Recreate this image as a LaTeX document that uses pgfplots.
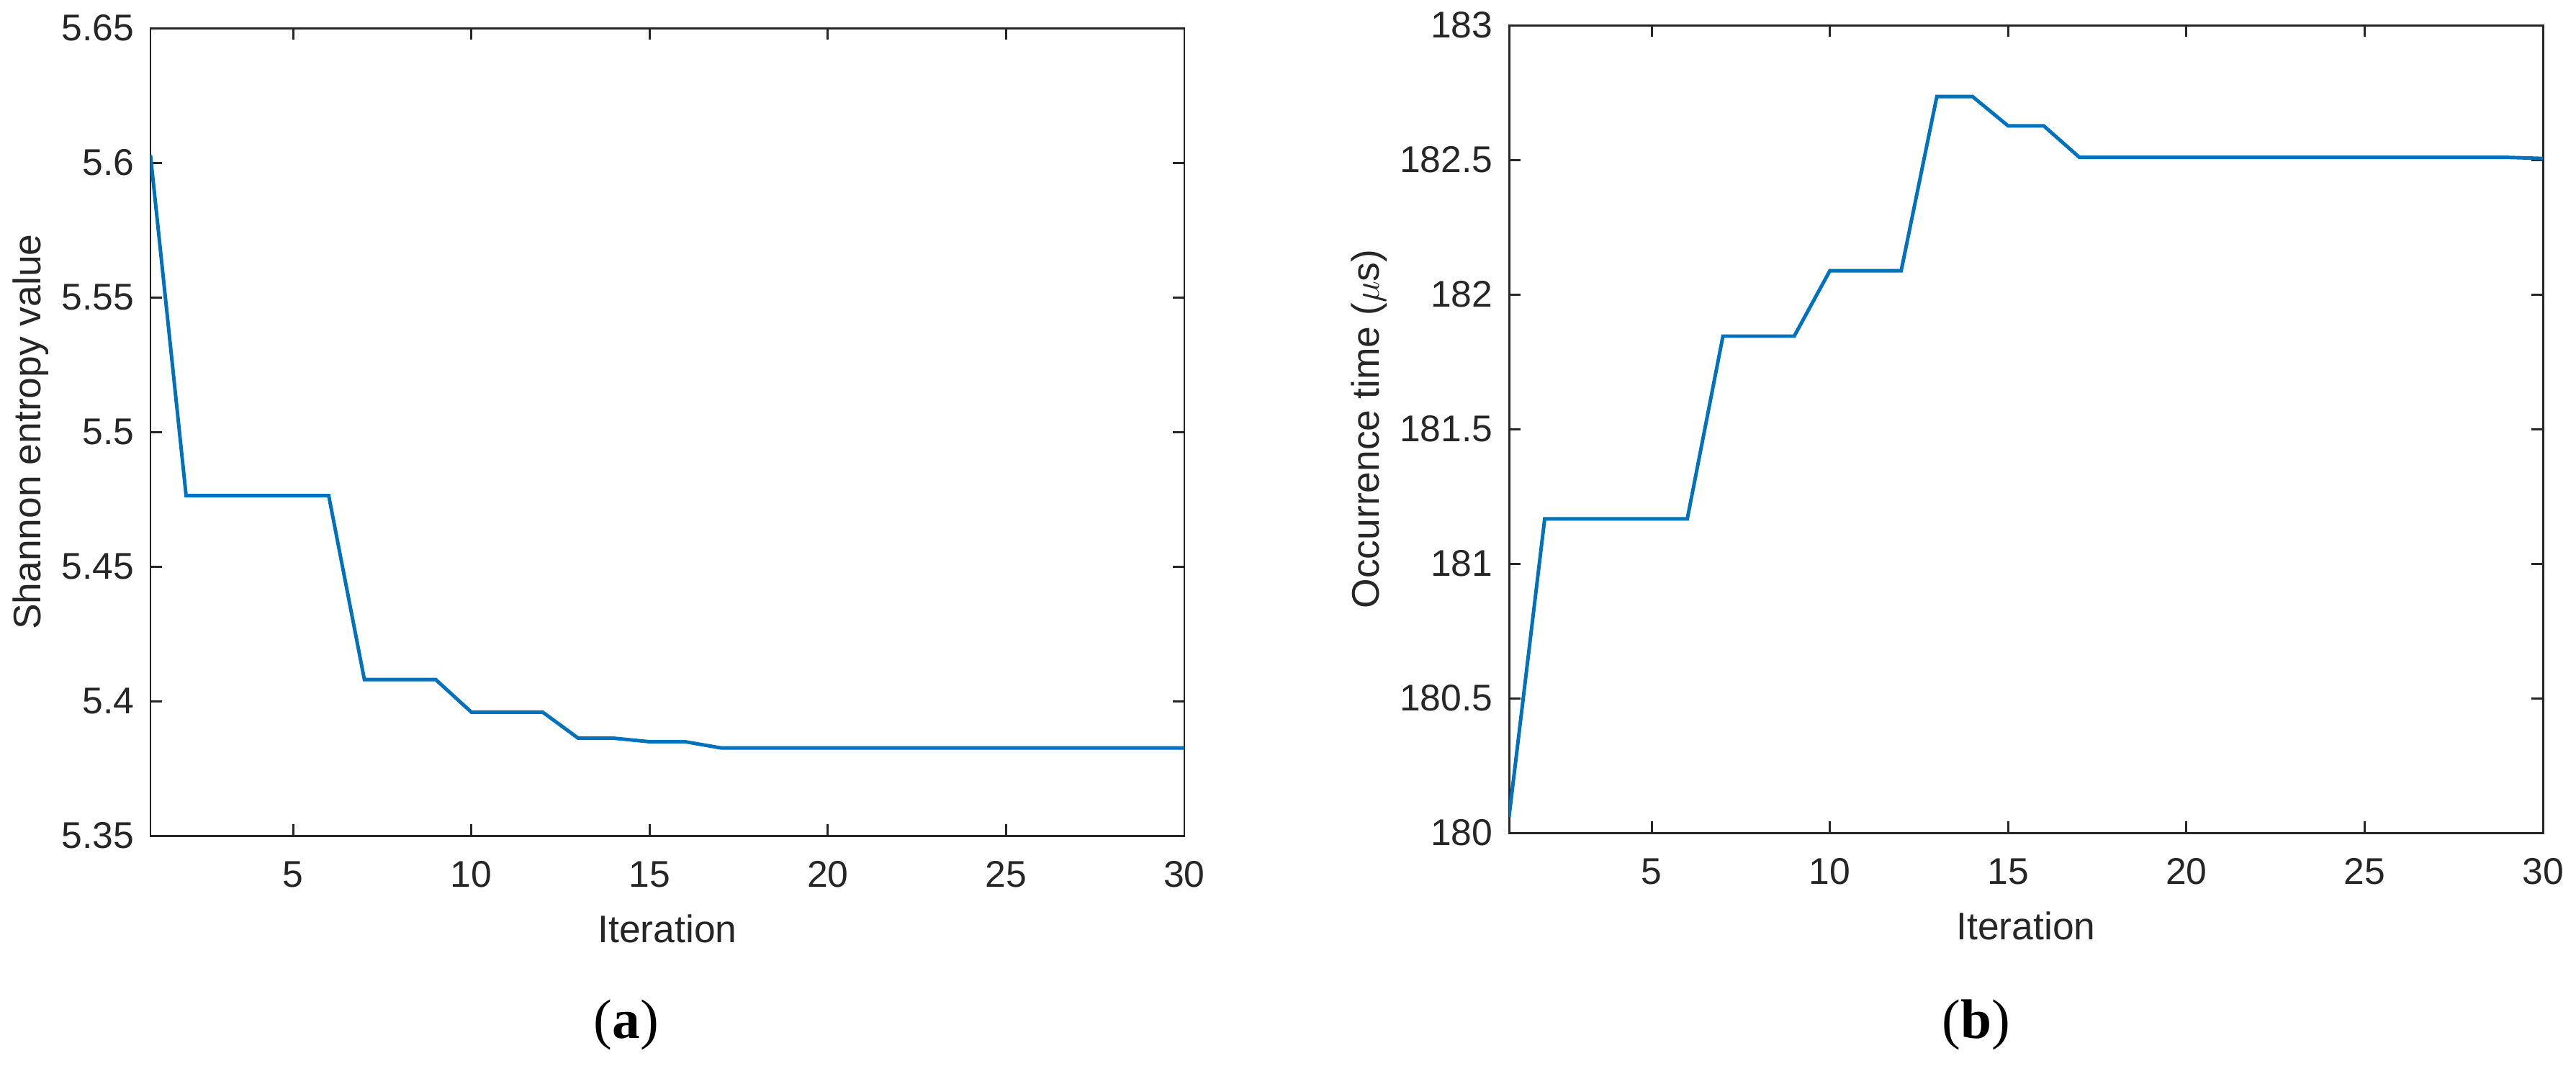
\documentclass[border=0pt]{standalone}
\usepackage{fontspec}
\setmainfont{Liberation Sans}
\newfontfamily\serifrm{Liberation Serif}
\usepackage{pgfplots}
\pgfplotsset{compat=1.18}
\definecolor{mblue}{RGB}{0,114,189}
\definecolor{axgray}{RGB}{38,38,38}
\pgfplotsset{
  myax/.style={
    scale only axis, width=143.6mm, height=112.2mm,
    xmin=1, xmax=30, xtick={5,10,15,20,25,30},
    tick align=inside, major tick length=1.6mm,
    axis line style={axgray, line width=0.85pt},
    every tick/.style={axgray, line width=0.85pt},
    tick label style={font=\fontsize{14.7}{16}\selectfont, text=axgray, inner sep=0pt},
    xticklabel style={yshift=-3.5mm},
    yticklabel style={xshift=-2.2mm},
    /pgf/number format/assume math mode=true,
    label style={font=\fontsize{15.2}{17}\selectfont, text=axgray},
    xlabel style={at={(axis description cs:0.5,-0.115)}, anchor=center},
  }
}
\begin{document}
\begin{tikzpicture}
\useasboundingbox (0,0) rectangle (357.8mm,-148mm);
\begin{axis}[myax, at={(20.9mm,-3.9mm)}, anchor=north west,
  ymin=5.35, ymax=5.65, ytick={5.35,5.4,5.45,5.5,5.55,5.6,5.65},
  xlabel={Iteration}, ylabel={Shannon entropy value},
  ylabel style={at={(axis description cs:-0.1156,0.5)}, anchor=center}]
\addplot[mblue, line width=1.4pt, no marks] coordinates {
(1,5.6028) (2,5.4763) (3,5.4763) (4,5.4763) (5,5.4763) (6,5.4763)
(7,5.4080) (8,5.4080) (9,5.4080) (10,5.3959) (11,5.3959) (12,5.3959)
(13,5.3862) (14,5.3862) (15,5.3849) (16,5.3849) (17,5.3826) (18,5.3826)
(19,5.3826) (20,5.3826) (21,5.3826) (22,5.3826) (23,5.3826) (24,5.3826)
(25,5.3826) (26,5.3826) (27,5.3826) (28,5.3826) (29,5.3826) (30,5.3826)
};
\end{axis}
\begin{axis}[myax, at={(209.6mm,-3.5mm)}, anchor=north west,
  ymin=180, ymax=183, ytick={180,180.5,181,181.5,182,182.5,183},
  xlabel={Iteration}, ylabel={Occurrence time ($\mu$s)},
  ylabel style={at={(axis description cs:-0.135,0.5)}, anchor=center}]
\addplot[mblue, line width=1.4pt, no marks] coordinates {
(1,180.059) (2,181.166) (3,181.166) (4,181.166) (5,181.166) (6,181.166)
(7,181.845) (8,181.845) (9,181.845) (10,182.088) (11,182.088) (12,182.088)
(13,182.735) (14,182.735) (15,182.626) (16,182.626) (17,182.509) (18,182.509)
(19,182.509) (20,182.509) (21,182.509) (22,182.509) (23,182.509) (24,182.509)
(25,182.509) (26,182.509) (27,182.509) (28,182.509) (29,182.509) (30,182.505)
};
\end{axis}
\node at (87mm,-142.4mm) {\fontsize{22}{24}\selectfont\serifrm (\textbf{a})};
\node at (274.5mm,-142.4mm) {\fontsize{22}{24}\selectfont\serifrm (\textbf{b})};
\end{tikzpicture}
\end{document}
